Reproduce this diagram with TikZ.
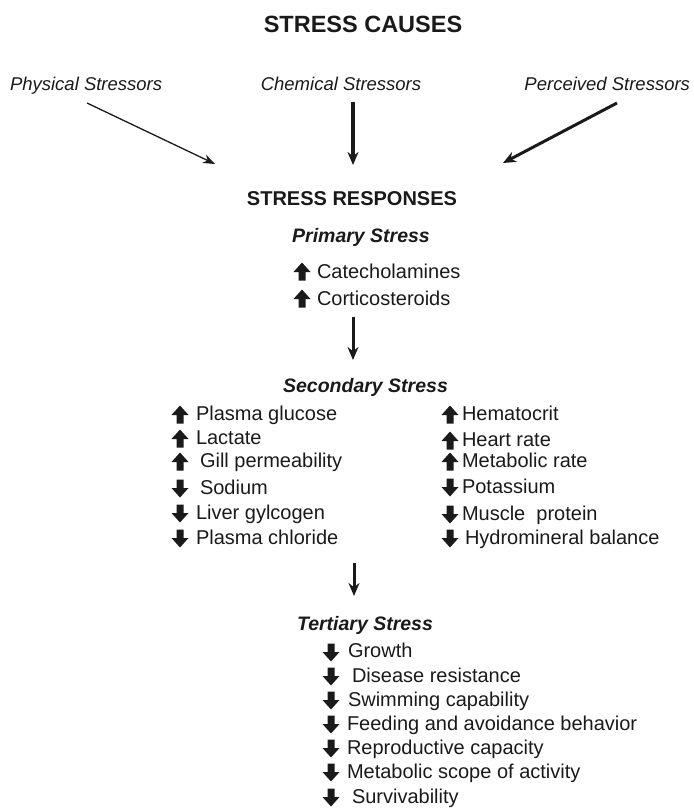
\documentclass[tikz,border=0pt]{standalone}
\usepackage{fontspec}
\setmainfont{Liberation Sans}
\usetikzlibrary{arrows.meta}
\definecolor{ink}{HTML}{1A1A1A}
\begin{document}
\begin{tikzpicture}[x=1pt,y=-1pt,
  every node/.style={inner sep=0pt,outer sep=0pt,text=ink},
  title/.style={anchor=base,font=\fontsize{23.5}{28}\selectfont\bfseries},
  stressor/.style={font=\fontsize{18.5}{22}\selectfont\itshape},
  resp/.style={anchor=base,font=\fontsize{20}{24}\selectfont\bfseries},
  level/.style={anchor=base,font=\fontsize{19.5}{23}\selectfont\bfseries\itshape},
  item/.style={anchor=base west,font=\fontsize{20}{24}\selectfont},
  flow/.style={draw=ink,line width=3pt,-{Stealth[length=13pt,width=11pt]}},
  thinflow/.style={draw=ink,line width=1.3pt,-{Stealth[length=12pt,width=9pt]}},
  upg/.pic={\fill[ink] (0,-9.5) -- (8.5,0) -- (3.5,0) -- (3.5,8.5) -- (-3.5,8.5) -- (-3.5,0) -- (-8.5,0) -- cycle;},
  dng/.pic={\fill[ink] (0,9.5) -- (8.5,0) -- (3.5,0) -- (3.5,-8.5) -- (-3.5,-8.5) -- (-3.5,0) -- (-8.5,0) -- cycle;}
]
\useasboundingbox (0,0) rectangle (693,808);

% headings
\node[title] (causes) at (363,33) {STRESS CAUSES};
\node[stressor,anchor=base west] (phys) at (10,90) {Physical Stressors};
\node[stressor,anchor=base] (chem) at (341,90) {Chemical Stressors};
\node[stressor,anchor=base east] (perc) at (690,90) {Perceived Stressors};
\node[resp] (resp) at (352,205) {STRESS RESPONSES};

% arrow end points
\coordinate (p1) at (87,103);   \coordinate (p2) at (215,164);
\coordinate (c1) at (353,102);  \coordinate (c2) at (353,165);
\coordinate (q1) at (617,103);  \coordinate (q2) at (503,163);
\draw[thinflow] (p1) -- (p2);
\draw[flow,line width=3.5pt] (c1) -- (c2);
\draw[flow] (q1) -- (q2);

% primary
\node[level] (prim) at (361,242) {Primary Stress};
\pic at (302,272) {upg};
\node[item] (cat) at (317,278) {Catecholamines};
\pic at (302,299) {upg};
\node[item] (cor) at (317,305) {Corticosteroids};
\coordinate (a1) at (353,317); \coordinate (a2) at (353,360);
\draw[flow] (a1) -- (a2);

% secondary
\node[level] (sec) at (365.5,392) {Secondary Stress};
\pic at (180,415) {upg}; \node[item] (l1) at (196,420) {Plasma glucose};
\pic at (180,439) {upg}; \node[item] (l2) at (196,444) {Lactate};
\pic at (180,462) {upg}; \node[item] (l3) at (200,467) {Gill permeability};
\pic at (180,488) {dng}; \node[item] (l4) at (200,494) {Sodium};
\pic at (180,513) {dng}; \node[item] (l5) at (196,519) {Liver gylcogen};
\pic at (180,538) {dng}; \node[item] (l6) at (196,544) {Plasma chloride};

\pic at (450,415) {upg}; \node[item] (r1) at (462,420) {Hematocrit};
\pic at (450,441) {upg}; \node[item] (r2) at (462,446) {Heart rate};
\pic at (450,462) {upg}; \node[item] (r3) at (462,467) {Metabolic rate};
\pic at (450,487) {dng}; \node[item] (r4) at (462,493) {Potassium};
\pic at (450,514) {dng}; \node[item] (r5) at (462,520) {Muscle\ \ protein};
\pic at (450,538) {dng}; \node[item] (r6) at (465,544) {Hydromineral balance};

\coordinate (b1) at (354,563); \coordinate (b2) at (354,596);
\draw[flow] (b1) -- (b2);

% tertiary
\node[level] (ter) at (365,630) {Tertiary Stress};
\pic at (331,652) {dng}; \node[item] (t1) at (348,657) {Growth};
\pic at (331,676) {dng}; \node[item] (t2) at (352,682) {Disease resistance};
\pic at (331,700) {dng}; \node[item] (t3) at (348,706) {Swimming capability};
\pic at (331,724) {dng}; \node[item] (t4) at (347,730) {Feeding and avoidance behavior};
\pic at (331,748) {dng}; \node[item] (t5) at (347,754) {Reproductive capacity};
\pic at (331,772) {dng}; \node[item] (t6) at (347,778) {Metabolic scope of activity};
\pic at (331,797) {dng}; \node[item] (t7) at (352,803) {Survivability};
\end{tikzpicture}
\end{document}
